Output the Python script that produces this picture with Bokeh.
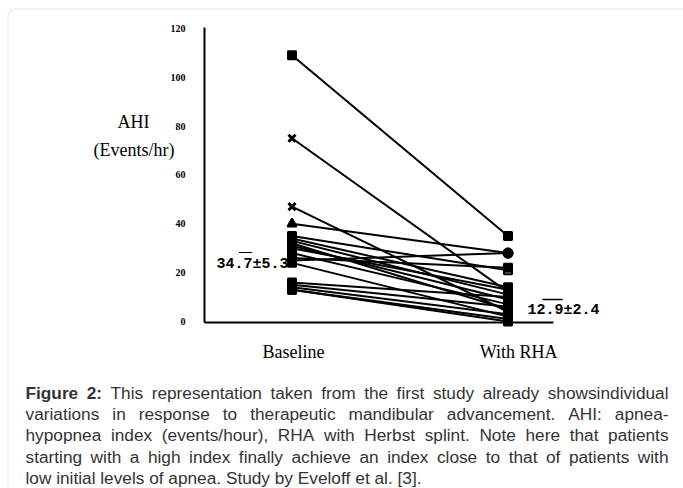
from bokeh.plotting import figure
from bokeh.models import Label, BoxAnnotation, FixedTicker, Range1d, ColumnDataSource, LinearAxis
from bokeh.embed import file_html
from bokeh.resources import INLINE

# ---------------- data ----------------
conditions = ["Baseline", "With RHA"]
condition_pos = [1.0, 2.0]
baseline_ahi = [109, 75, 47, 40, 35, 34, 33, 25, 31, 30, 28, 26, 32, 24, 16, 15, 14, 13, 13]
rha_ahi = [35, 12, 4, 28, 21, 14, 11, 28, 9, 13, 7, 22, 5, 2, 10, 6, 3, 1, 0]
baseline_marker = ["square", "x", "x", "triangle"] + ["square"] * 15
rha_marker = ["square", "square", "x", "circle", "square", "square", "square", "circle",
              "square", "square", "square", "square", "square", "square", "square",
              "square", "square", "square", "square"]
rha_open = [False, False, False, False, True] + [False] * 14
y_ticks = [0, 20, 40, 60, 80, 100, 120]
mean_labels = ["34.7\u00b15.3", "12.9\u00b12.4"]
y_title = ["AHI", "(Events/hr)"]
caption_lines = [
    "Figure 2: This representation taken from the first study already showsindividual",
    "variations in response to therapeutic mandibular advancement. AHI: apnea-",
    "hypopnea index (events/hour), RHA with Herbst splint. Note here that patients",
    "starting with a high index finally achieve an index close to that of patients with",
    "low initial levels of apnea. Study by Eveloff et al. [3].",
]

# ---------------- layout constants (pixels) ----------------
W, H = 683, 488
AX_L, AX_R, AX_T, AX_B = 204, 553, 27, 322   # chart box edges on the canvas
PX_PER_X = 216.0
X0_PX = 291.5          # canvas x of the first condition
PX_PER_Y = 2.443
Y0_PX = 321.0          # canvas y of AHI = 0


def dx(px):
    return condition_pos[0] + (px - X0_PX) / PX_PER_X


def dy(py):
    return (Y0_PX - py) / PX_PER_Y


p = figure(width=W, height=H, output_backend="svg", toolbar_location=None,
           x_range=Range1d(dx(0), dx(W)), y_range=Range1d(dy(H), dy(0)),
           x_axis_location=None, y_axis_location=None,
           min_border_left=0, min_border_right=0, min_border_top=0, min_border_bottom=0)
p.background_fill_color = "white"
p.border_fill_color = "white"
p.outline_line_color = None
p.grid.visible = False

serif = "Liberation Serif"

# axes, fixed at the chart box edges
yaxis = LinearAxis(fixed_location=dx(AX_L), bounds=(dy(AX_B), dy(AX_T)),
                   ticker=FixedTicker(ticks=y_ticks))
yaxis.major_tick_out = 0
yaxis.major_tick_in = 0
yaxis.minor_tick_out = 0
yaxis.minor_tick_in = 0
yaxis.major_label_standoff = 19
yaxis.major_label_text_font = serif
yaxis.major_label_text_font_size = "10px"
yaxis.major_label_text_font_style = "bold"
yaxis.major_label_text_color = "black"
yaxis.axis_line_width = 2
yaxis.axis_line_color = "black"
p.add_layout(yaxis, "left")

xt = [condition_pos[0] + 0.007, condition_pos[1] + 0.049]
xaxis = LinearAxis(fixed_location=dy(AX_B), bounds=(dx(AX_L), dx(AX_R)),
                   ticker=FixedTicker(ticks=xt))
xaxis.major_label_overrides = {xt[0]: conditions[0], xt[1]: conditions[1]}
xaxis.major_tick_out = 0
xaxis.major_tick_in = 0
xaxis.minor_tick_out = 0
xaxis.minor_tick_in = 0
xaxis.major_label_standoff = 19
xaxis.major_label_text_font = serif
xaxis.major_label_text_font_size = "18px"
xaxis.major_label_text_color = "black"
xaxis.axis_line_width = 2
xaxis.axis_line_color = "black"
p.add_layout(xaxis, "below")

# lines
n = len(baseline_ahi)
p.multi_line(xs=[condition_pos[:] for _ in range(n)],
             ys=[[b, r] for b, r in zip(baseline_ahi, rha_ahi)],
             line_color="black", line_width=2)

# markers
all_markers = baseline_marker + rha_marker
src = ColumnDataSource(dict(
    x=[condition_pos[0]] * n + [condition_pos[1]] * n,
    y=baseline_ahi + rha_ahi,
    marker=all_markers,
    fill=["black"] * n + ["white" if o else "black" for o in rha_open],
    size=[10 if m == "x" else (9 if m in ("triangle", "circle") else 8) for m in all_markers],
    lw=[3 if m == "x" else 2 for m in all_markers],
))
p.scatter(x="x", y="y", marker="marker", size="size", fill_color="fill",
          line_color="black", line_width="lw", source=src)


def lab(text, cx, cy, align="center", baseline="middle", font=serif, size="18px",
        style="normal", color="black"):
    p.add_layout(Label(x=cx, y=H - cy, x_units="screen", y_units="screen",
                       text=text, text_align=align, text_baseline=baseline,
                       text_font=font, text_font_size=size, text_font_style=style,
                       text_color=color))


# y title
lab(y_title[0], 133, 121)
lab(y_title[1], 133.5, 149)

# mean labels with overbars
lab(mean_labels[0], 216, 264, align="left", font="Liberation Mono", size="15px", style="bold")
lab("\u2014", 245, 250, size="13px", style="bold")
lab(mean_labels[1], 527, 310, align="left", font="Liberation Mono", size="15px", style="bold")
lab("\u2014", 552, 297, size="20px", style="bold")

# outer rounded border
p.add_layout(BoxAnnotation(left=dx(7.5), right=dx(720), top=dy(8.5), bottom=dy(540),
                           fill_color=None, fill_alpha=0, line_color="#c2c2c2",
                           line_width=1.5, border_radius=8))

# caption, justified with Arial-compatible metrics
REG = {" ": 278, "(": 333, ")": 333, ",": 278, "-": 333, ".": 278, "/": 278, ":": 278,
       "[": 278, "]": 278, "A": 667, "E": 667, "F": 611, "H": 722, "I": 278, "N": 722,
       "R": 722, "S": 667, "T": 611, "a": 556, "b": 556, "c": 500, "d": 556, "e": 556,
       "f": 278, "g": 556, "h": 556, "i": 222, "j": 222, "k": 500, "l": 222, "m": 833,
       "n": 556, "o": 556, "p": 556, "q": 556, "r": 333, "s": 500, "t": 278, "u": 556,
       "v": 500, "w": 722, "x": 500, "y": 500, "z": 500}
BOLD = {" ": 278, ":": 333, "F": 611, "i": 278, "g": 611, "u": 611, "r": 389, "e": 556}
CAP_FS = 17.25
CAP_X0, CAP_X1 = 25.0, 668.0
CAP_Y0, CAP_DY = 392.3, 21.25   # vertical middle of each caption line


def wwidth(word, bold):
    table = BOLD if bold else REG
    return sum(table.get(ch, 556) for ch in word) * CAP_FS / 1000.0


for li, line in enumerate(caption_lines):
    words = line.split(" ")
    bolds = [li == 0 and wi < 2 for wi in range(len(words))]
    widths = [wwidth(w, b) for w, b in zip(words, bolds)]
    if li < len(caption_lines) - 1:
        gap = (CAP_X1 - CAP_X0 - sum(widths)) / (len(words) - 1)
    else:
        gap = REG[" "] * CAP_FS / 1000.0
    x = CAP_X0
    y = CAP_Y0 + li * CAP_DY
    for w, b, ww in zip(words, bolds, widths):
        lab(w, x, y, align="left", baseline="middle", font="Liberation Sans",
            size=f"{CAP_FS}px", style="bold" if b else "normal", color="#333333")
        x += ww + gap

open("out.html", "w").write(file_html(p, INLINE))
